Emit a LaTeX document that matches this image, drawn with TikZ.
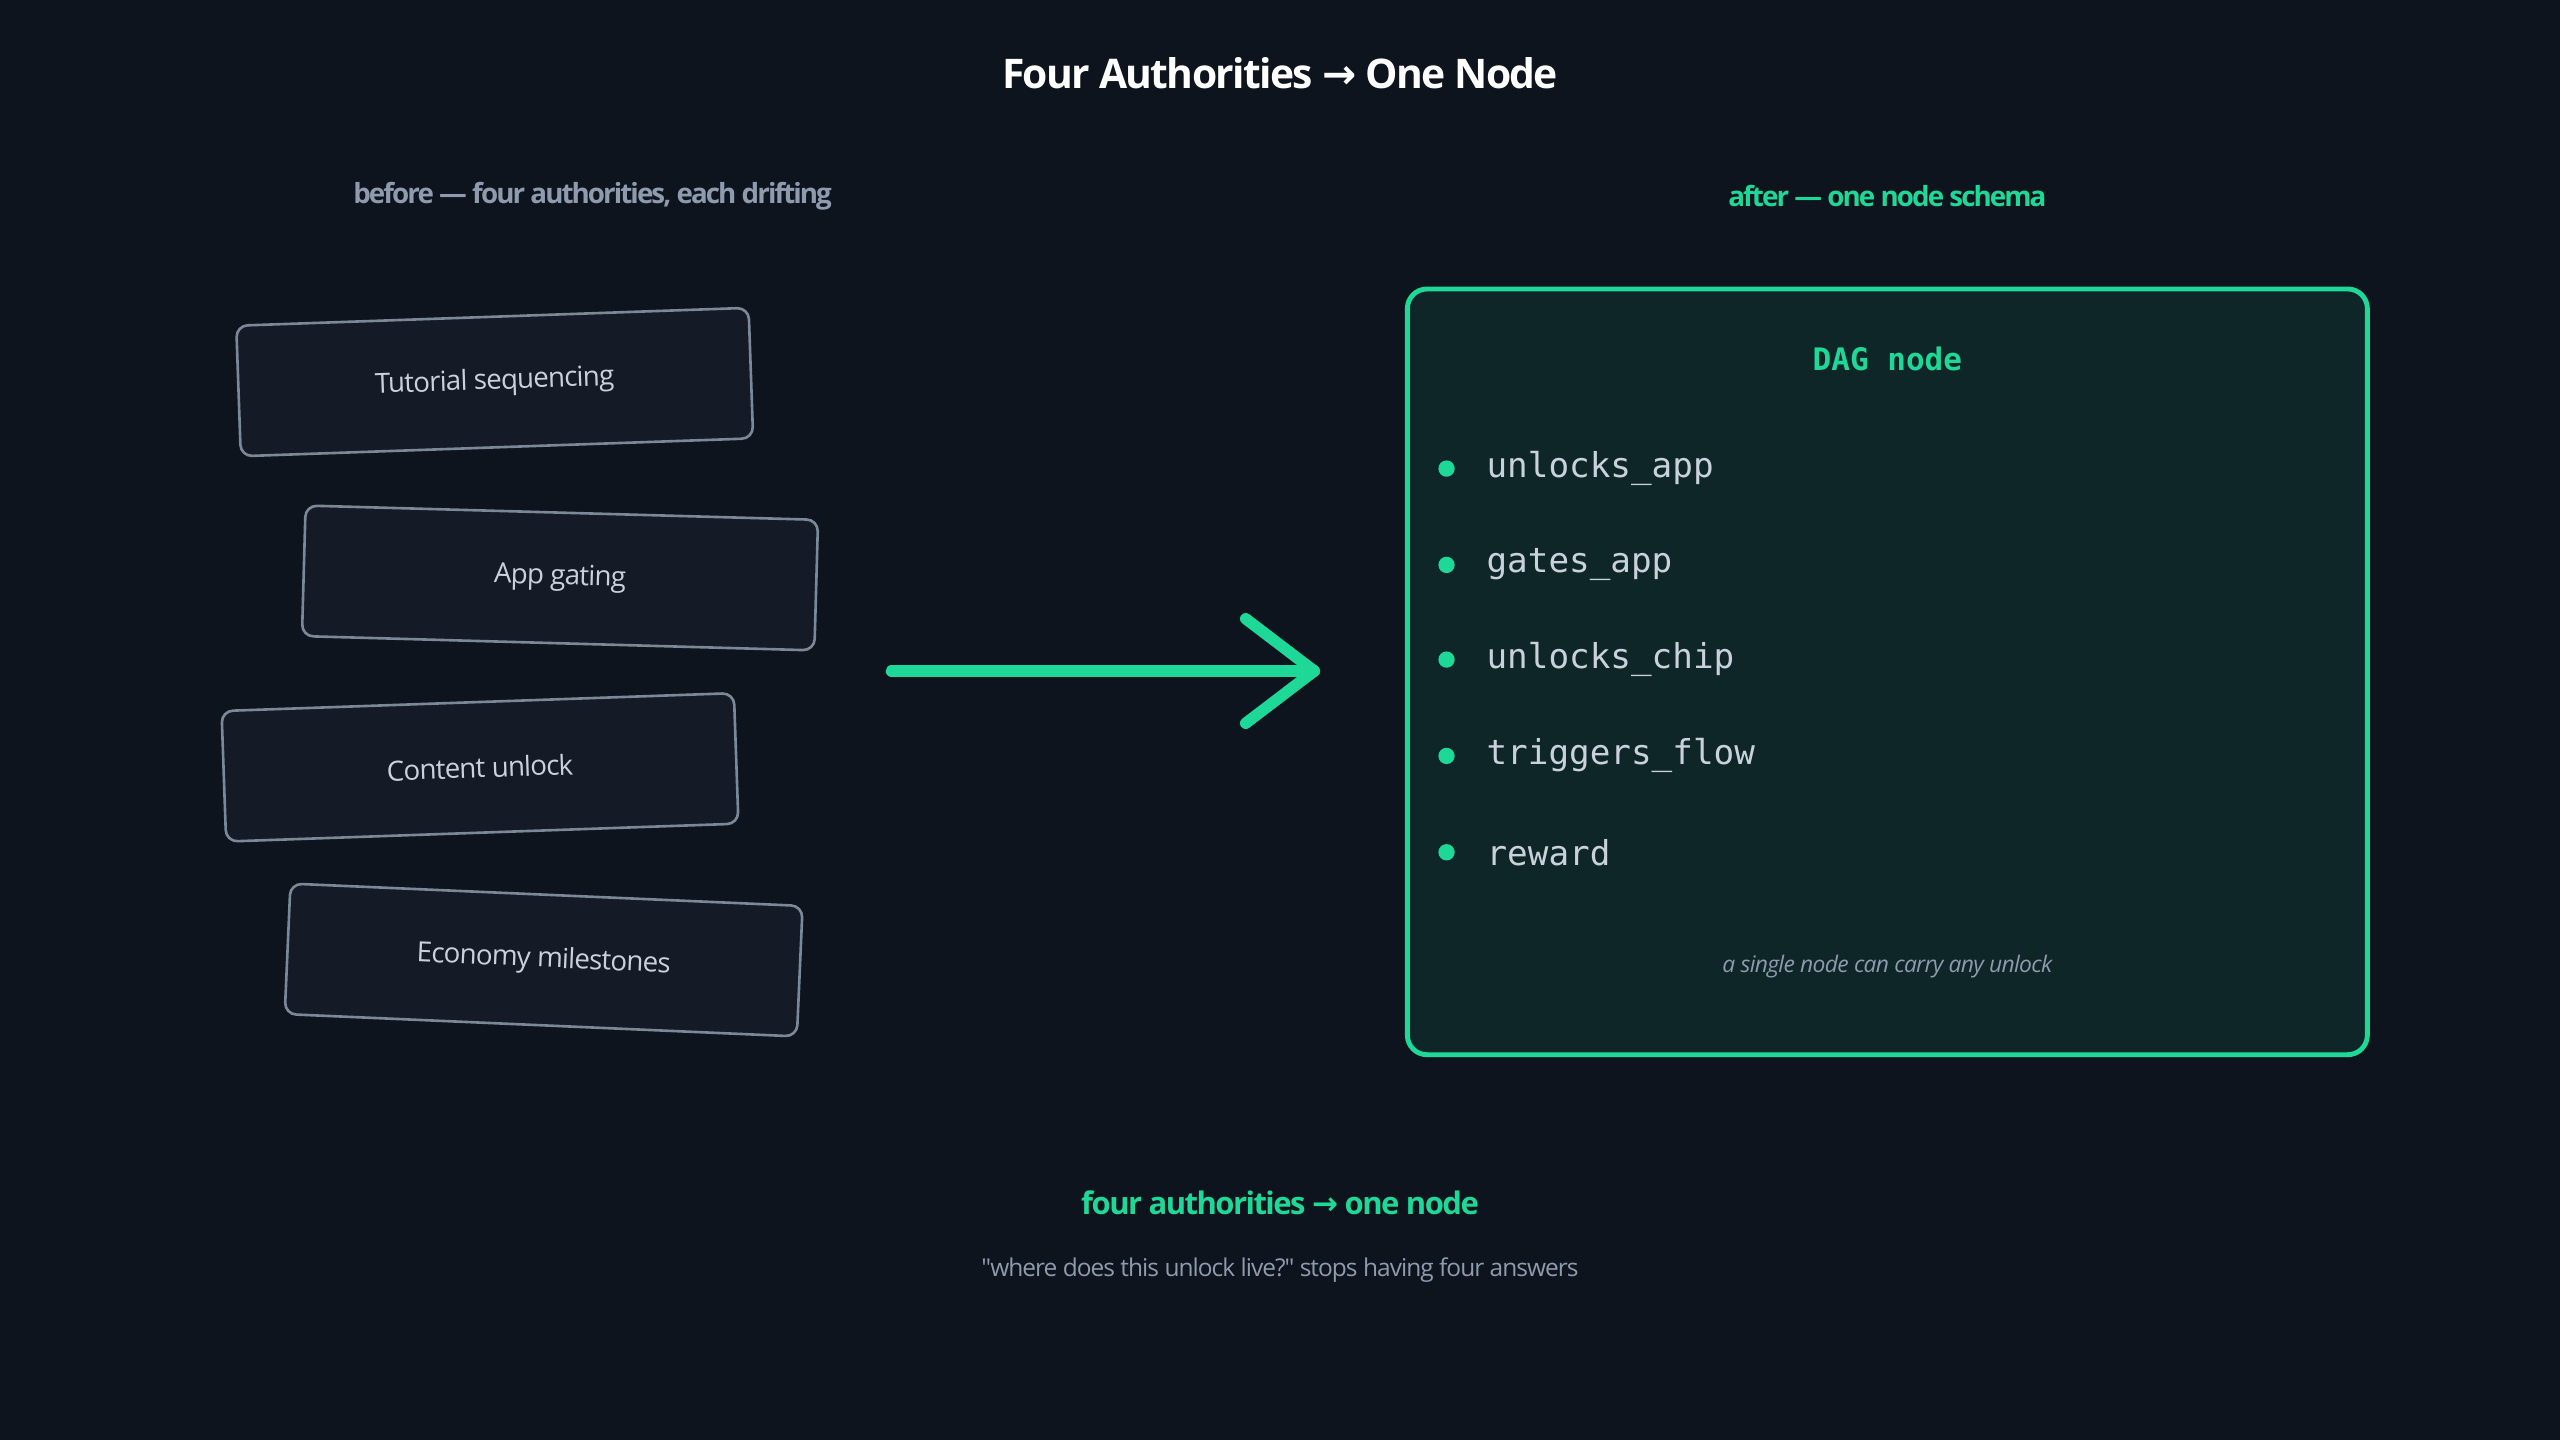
\documentclass[tikz,border=0pt]{standalone}
\usepackage{fontspec}
\setmainfont{Open Sans}
\newfontfamily\osplain{Open Sans}
\newfontfamily\arr{DejaVu Sans}
\setmonofont{DejaVu Sans Mono}
\definecolor{bg}{HTML}{0E141D}
\definecolor{boxf}{HTML}{141B26}
\definecolor{boxd}{HTML}{7A8898}
\definecolor{grn}{HTML}{1ED898}
\definecolor{panel}{HTML}{0F2628}
\definecolor{txt}{HTML}{C9D2DC}
\definecolor{sub}{HTML}{8E9AAD}
\begin{document}
\begin{tikzpicture}[x=1pt,y=-1pt,
  card/.style={draw=boxd,line width=1.6pt,fill=boxf,rounded corners=7pt,minimum width=314pt,minimum height=80pt,text=txt,font=\fontsize{17}{20}\selectfont\addfontfeature{LetterSpace=-3}},
  item/.style={anchor=west,text=txt,font=\ttfamily\fontsize{21}{24}\selectfont},
  dot/.style={circle,fill=grn,inner sep=0pt,minimum size=10pt}]
\fill[bg] (0,0) rectangle (1568,882);
\useasboundingbox (0,0) rectangle (1568,882);
\node[text=white,font=\bfseries\fontsize{25}{30}\selectfont\addfontfeature{LetterSpace=-4}] (title) at (784,45) {Four Authorities {\arr\bfseries →} One Node};
\node[text=sub,font=\bfseries\fontsize{17}{20}\selectfont\addfontfeature{LetterSpace=-7}] (lh) at (363,120) {before — four authorities, each drifting};
\node[text=grn,font=\bfseries\fontsize{17}{20}\selectfont\addfontfeature{LetterSpace=-7}] (rh) at (1156,120) {after — one node schema};
\node[card,rotate=2] (c1) at (303,234) {Tutorial sequencing};
\node[card,rotate=-1.6] (c2) at (343,354) {App gating};
\node[card,rotate=2] (c3) at (294,470) {Content unlock};
\node[card,rotate=-2.5] (c4) at (333,588) {Economy milestones};
\node[draw=grn,line width=3pt,fill=panel,rounded corners=12pt,minimum width=588pt,minimum height=469pt] (panel) at (1156,411.5) {};
\node[text=grn,font=\ttfamily\bfseries\fontsize{19}{22}\selectfont] (dag) at (1156,220) {DAG node};
\foreach \t/\y [count=\i] in {unlocks\_app/287,gates\_app/346,unlocks\_chip/404,triggers\_flow/463,reward/522}{
  \node[dot] (d\i) at (886,\y) {};
  \node[item] (t\i) at (907,\y) {\t};
}
\node[text=sub,font=\itshape\fontsize{14}{17}\selectfont\addfontfeature{LetterSpace=-3}] (cap) at (1156,592) {a single node can carry any unlock};
\coordinate (a0) at (546,411);
\coordinate (a1) at (805,411);
\coordinate (h1) at (763,379);
\coordinate (h2) at (763,443);
\draw[grn,line width=7pt,line cap=round] (a0) -- (a1);
\draw[grn,line width=7pt,line cap=round,line join=round] (h1) -- (a1) -- (h2);
\node[text=grn,font=\bfseries\fontsize{19}{22}\selectfont\addfontfeature{LetterSpace=-5}] (b1) at (784,737) {four authorities {\arr\bfseries →} one node};
\node[text=sub,font=\osplain\fontsize{15}{18}\selectfont\addfontfeature{LetterSpace=-4}] (b2) at (784,778) {"where does this unlock live?" stops having four answers};
\end{tikzpicture}
\end{document}
